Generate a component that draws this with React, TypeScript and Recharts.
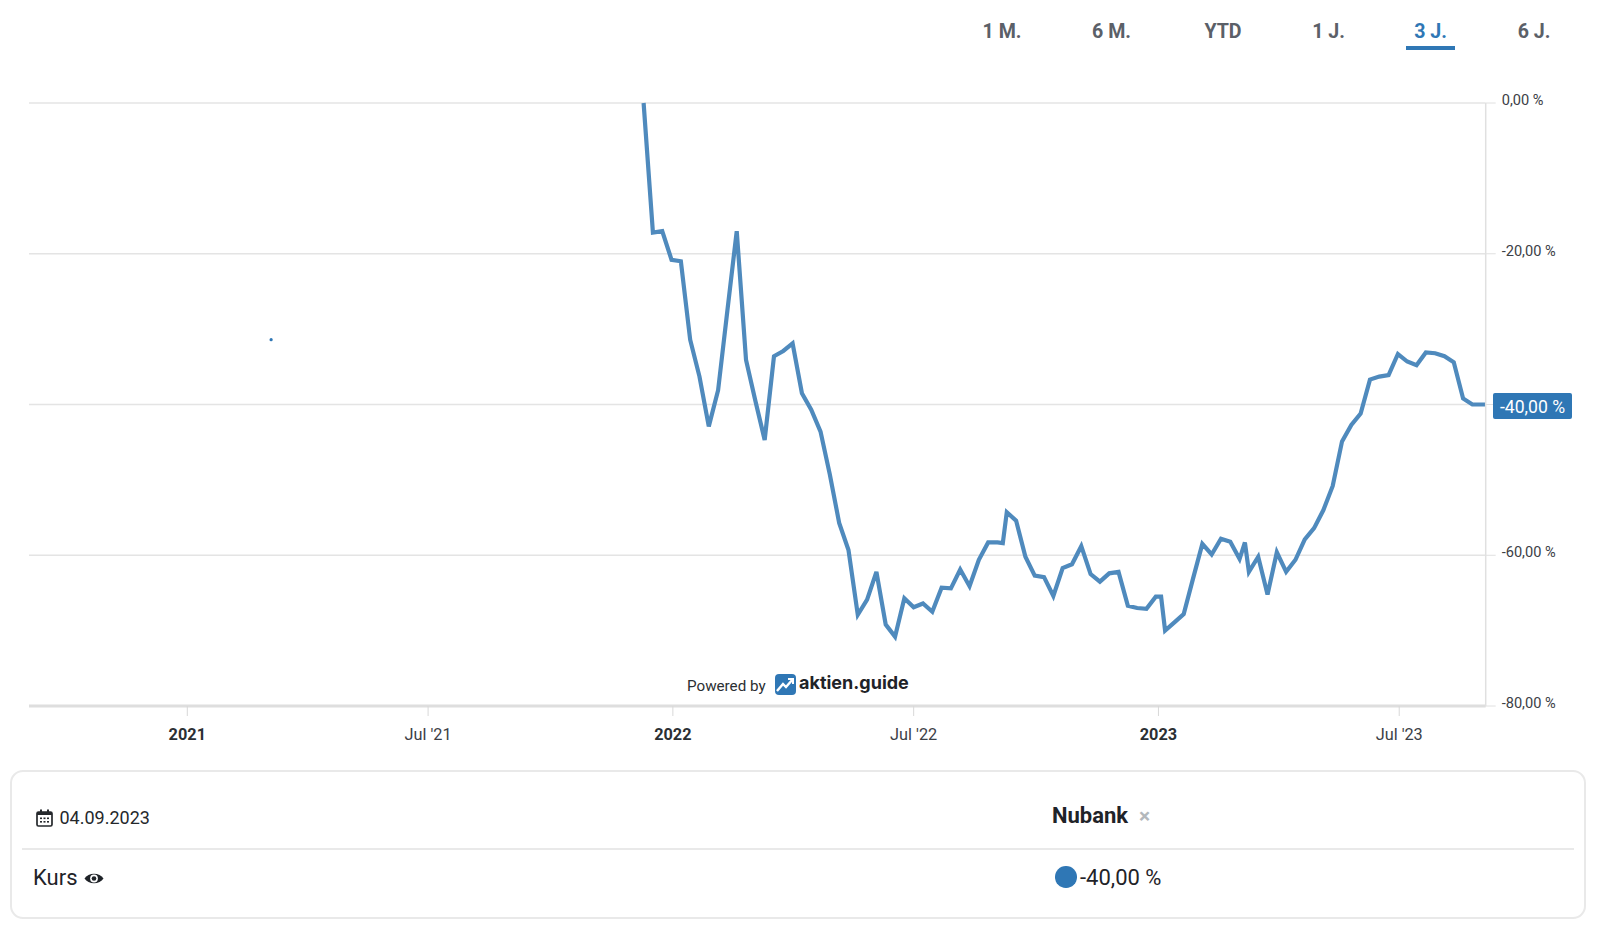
import { LineChart, Line, XAxis, YAxis, CartesianGrid } from 'recharts';

const kursDates = [
  '2021-12-10', '2021-12-17', '2021-12-24', '2021-12-31',
  '2022-01-07', '2022-01-14', '2022-01-21', '2022-01-28',
  '2022-02-04', '2022-02-11', '2022-02-18', '2022-02-25',
  '2022-03-04', '2022-03-11', '2022-03-18', '2022-03-25', '2022-04-01',
  '2022-04-08', '2022-04-15', '2022-04-22', '2022-04-29',
  '2022-05-06', '2022-05-13', '2022-05-20', '2022-05-27',
  '2022-06-03', '2022-06-10', '2022-06-17', '2022-06-24', '2022-07-01',
  '2022-07-08', '2022-07-15', '2022-07-22', '2022-07-29',
  '2022-08-05', '2022-08-12', '2022-08-19', '2022-08-26',
  '2022-09-02', '2022-09-06', '2022-09-09', '2022-09-16', '2022-09-23', '2022-09-30',
  '2022-10-07', '2022-10-14', '2022-10-21', '2022-10-28',
  '2022-11-04', '2022-11-11', '2022-11-18', '2022-11-25',
  '2022-12-02', '2022-12-09', '2022-12-16', '2022-12-23', '2022-12-30',
  '2023-01-03', '2023-01-06', '2023-01-13', '2023-01-20', '2023-01-27',
  '2023-02-03', '2023-02-10', '2023-02-17', '2023-02-24',
  '2023-03-03', '2023-03-07', '2023-03-10', '2023-03-17', '2023-03-24', '2023-03-31',
  '2023-04-07', '2023-04-14', '2023-04-21', '2023-04-28',
  '2023-05-05', '2023-05-12', '2023-05-19', '2023-05-26',
  '2023-06-02', '2023-06-09', '2023-06-16', '2023-06-23', '2023-06-30',
  '2023-07-07', '2023-07-14', '2023-07-21', '2023-07-28',
  '2023-08-04', '2023-08-11', '2023-08-18', '2023-08-25', '2023-09-01',
  '2023-09-04',
];

const kursValues = [
  0, -17.2, -17.0, -20.8,
  -21.0, -31.4, -36.3, -42.9,
  -38.1, -27.5, -17.0, -34.1,
  -39.5, -44.7, -33.6, -32.9, -31.9,
  -38.5, -40.7, -43.6, -49.3,
  -55.7, -59.3, -67.9, -65.9,
  -62.2, -69.2, -70.8, -65.7, -66.9,
  -66.4, -67.5, -64.3, -64.4,
  -61.9, -64.1, -60.6, -58.3,
  -58.3, -58.4, -54.3, -55.4, -60.2, -62.7,
  -62.9, -65.4, -61.7, -61.2,
  -58.8, -62.5, -63.5, -62.4,
  -62.2, -66.7, -67.0, -67.1, -65.5,
  -65.5, -70.0, -68.9, -67.8, -63.1,
  -58.5, -59.9, -57.8, -58.2,
  -60.5, -58.3, -62.2, -60.2, -65.2, -59.6,
  -62.2, -60.6, -57.9, -56.4,
  -54.0, -50.8, -44.9, -42.7,
  -41.2, -36.7, -36.3, -36.1, -33.3,
  -34.3, -34.8, -33.1, -33.2,
  -33.6, -34.4, -39.2, -40.0, -40.0,
  -40.0,
];

// the lone point far left of the main line
const strayDate = '2021-03-05';
const strayValue = -31.4;

const yTicks = [0, -20, -40, -60, -80];
const lastValue = -40;
const xTickDates = ['2021-01-01', '2021-07-01', '2022-01-01', '2022-07-01', '2023-01-01', '2023-07-01'];
const xTickLabels = ['2021', "Jul '21", '2022', "Jul '22", '2023', "Jul '23"];
const rangeButtons = ['1 M.', '6 M.', 'YTD', '1 J.', '3 J.', '6 J.'];
const rangeCenters = [1002, 1111.5, 1223, 1328.5, 1430.5, 1534];

const FONT = 'Roboto, sans-serif';
const BLUE = '#2f77b5';
const LINE_BLUE = '#4f8abd';

const toTime = (d: string) => new Date(d + 'T00:00:00Z').getTime();

const chartData = [
  { t: toTime(strayDate), stray: strayValue },
  ...kursDates.map((d, i) => ({ t: toTime(d), kurs: kursValues[i] })),
];

const formatPct = (v: number) => v.toFixed(2).replace('.', ',') + ' %';

function XTick({ x, y, payload }: any) {
  const idx = xTickDates.findIndex((d) => toTime(d) === payload.value);
  const label = xTickLabels[idx];
  const isYear = !label.startsWith('Jul');
  return (
    <text
      x={x}
      y={y + 21.5}
      textAnchor="middle"
      fontFamily={FONT}
      fontSize={16.3}
      fontWeight={isYear ? 700 : 400}
      fill={isYear ? '#2b2f33' : '#3c4046'}
    >
      {label}
    </text>
  );
}

function YTick({ x, y, payload }: any) {
  // the blue badge stands in for the label of the current value
  if (payload.value === lastValue) return null;
  return (
    <text x={x + 4} y={y + 2} textAnchor="start" fontFamily={FONT} fontSize={14.6} fill="#3c4046">
      {formatPct(payload.value)}
    </text>
  );
}

function PriceChart() {
  return (
    <LineChart
      width={1600}
      height={760}
      data={chartData}
      margin={{ top: 103, right: 0, bottom: 0, left: 29 }}
    >
      <CartesianGrid vertical={false} stroke="#e4e4e4" strokeWidth={1.5} />
      <XAxis
        dataKey="t"
        type="number"
        scale="time"
        domain={[toTime('2020-09-04'), toTime('2023-09-04')]}
        ticks={xTickDates.map(toTime)}
        tick={<XTick />}
        tickSize={10}
        height={54}
        stroke="#e0e0e0"
        tickLine={{ stroke: '#d8d8d8', strokeWidth: 1 }}
        axisLine={{ stroke: '#dedede', strokeWidth: 3 }}
      />
      <YAxis
        orientation="right"
        type="number"
        domain={[-80, 0]}
        ticks={yTicks}
        tick={<YTick />}
        width={114.3}
        tickSize={10}
        axisLine={{ stroke: '#e0e0e0', strokeWidth: 1.5 }}
        tickLine={{ stroke: '#e0e0e0', strokeWidth: 1 }}
      />
      <Line
        dataKey="kurs"
        type="linear"
        stroke={LINE_BLUE}
        strokeWidth={4.2}
        strokeLinejoin="miter"
        dot={false}
        activeDot={false}
        isAnimationActive={false}
      />
      <Line
        dataKey="stray"
        type="linear"
        stroke={BLUE}
        strokeWidth={0}
        dot={{ r: 1.6, fill: BLUE, stroke: 'none' }}
        activeDot={false}
        isAnimationActive={false}
      />
    </LineChart>
  );
}

const abs = (left: number, top: number, extra: any = {}) => ({
  position: 'absolute' as const,
  left,
  top,
  whiteSpace: 'nowrap' as const,
  ...extra,
});

export default function App() {
  return (
    <div style={{ position: 'absolute', left: 0, top: 0, width: 1600, height: 927, overflow: 'hidden', background: '#fff', fontFamily: FONT }}>
      <PriceChart />

      {rangeButtons.map((b, i) => (
        <div
          key={b}
          style={abs(rangeCenters[i] - 50, 20, {
            width: 100,
            textAlign: 'center',
            fontSize: 19.6,
            lineHeight: '24px',
            fontWeight: 700,
            color: b === '3 J.' ? BLUE : '#5b6068',
          })}
        >
          {b}
        </div>
      ))}
      <div style={abs(1406, 46, { width: 49, height: 4, background: BLUE })} />

      <div style={abs(1492.7, 393.3, {
        width: 79.6,
        height: 26,
        borderRadius: 2,
        background: BLUE,
        color: '#fff',
        fontSize: 17.6,
        lineHeight: '29px',
        textAlign: 'center',
      })}>
        {formatPct(lastValue)}
      </div>

      <div style={abs(687, 676, { fontSize: 15.2, lineHeight: '20px', color: '#2b2f33' })}>Powered by</div>
      <svg style={abs(775, 674)} width={21} height={21} viewBox="0 0 21 21">
        <rect width={21} height={21} rx={4} fill={BLUE} />
        <polyline points="2,17 8,10 11,13 18,5" fill="none" stroke="#fff" strokeWidth={2.4} />
        <polyline points="13,5 18,5 18,10" fill="none" stroke="#fff" strokeWidth={2} />
      </svg>
      <div style={abs(799, 671, { fontFamily: 'Inter, sans-serif', fontSize: 18, lineHeight: '24px', fontWeight: 700, color: '#1f2328' })}>
        aktien.guide
      </div>

      <div style={abs(10, 770, { width: 1576, height: 149, boxSizing: 'border-box', border: '2px solid #e9e9e9', borderRadius: 13 })} />
      <div style={abs(22, 848, { width: 1552, height: 2, background: '#e9e9e9' })} />

      <svg style={abs(36, 809)} width={17} height={18} viewBox="0 0 17 18">
        <rect x={1} y={3} width={15} height={14} rx={1.5} fill="none" stroke="#25282c" strokeWidth={1.7} />
        <rect x={1} y={3} width={15} height={3} fill="#25282c" />
        <rect x={4} y={0.5} width={2} height={4} fill="#25282c" />
        <rect x={11} y={0.5} width={2} height={4} fill="#25282c" />
        <rect x={4} y={8.5} width={2} height={1.6} fill="#25282c" />
        <rect x={7.5} y={8.5} width={2} height={1.6} fill="#25282c" />
        <rect x={11} y={8.5} width={2} height={1.6} fill="#25282c" />
        <rect x={4} y={12} width={2} height={1.6} fill="#25282c" />
        <rect x={7.5} y={12} width={2} height={1.6} fill="#25282c" />
        <rect x={11} y={12} width={2} height={1.6} fill="#25282c" />
      </svg>
      <div style={abs(59.5, 806, { fontSize: 18, lineHeight: '24px', color: '#25282c' })}>04.09.2023</div>

      <div style={abs(33, 864.5, { fontSize: 22, lineHeight: '26px', color: '#1f2328' })}>Kurs</div>
      <svg style={abs(84, 871)} width={20} height={15} viewBox="0 0 19 14">
        <path d="M0.5 7 C4 1 15 1 18.5 7 C15 13 4 13 0.5 7 Z" fill="#1f2328" />
        <circle cx={9.5} cy={7} r={3.7} fill="#fff" />
        <circle cx={9.5} cy={7} r={2.2} fill="#1f2328" />
      </svg>

      <div style={abs(1052, 802, { fontSize: 22, lineHeight: '28px', fontWeight: 700, color: '#1f2328' })}>Nubank</div>
      <div style={abs(1139, 804, { fontSize: 21, lineHeight: '24px', fontWeight: 700, color: '#b4b8bc' })}>×</div>

      <div style={abs(1055, 866, { width: 21.5, height: 21.5, borderRadius: '50%', background: BLUE })} />
      <div style={abs(1080, 864.5, { fontSize: 22, lineHeight: '26px', color: '#1f2328' })}>{formatPct(lastValue)}</div>
    </div>
  );
}
